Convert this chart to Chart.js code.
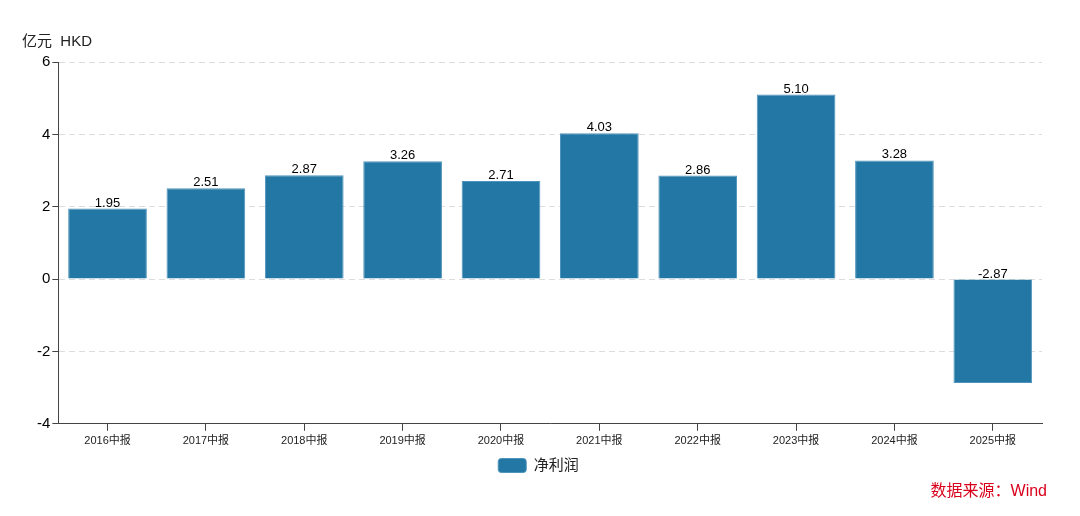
<!DOCTYPE html>
<html>
<head>
<meta charset="utf-8">
<script src="https://cdn.jsdelivr.net/npm/chart.js@4/dist/chart.umd.min.js"></script>
<style>
  html, body { margin: 0; padding: 0; background: #fff; }
  #wrap { width: 1080px; height: 516px; position: relative; }
</style>
</head>
<body>
<div id="wrap"><canvas id="grafico"></canvas></div>
<script>
// dados do gráfico
const categorias = ['2016中报', '2017中报', '2018中报', '2019中报', '2020中报', '2021中报', '2022中报', '2023中报', '2024中报', '2025中报'];
const lucroLiquido = [1.95, 2.51, 2.87, 3.26, 2.71, 4.03, 2.86, 5.10, 3.28, -2.87];
const nomeSerie = '净利润';
const unidade = '亿元  HKD';
const fonte = '数据来源：Wind';

const FONTE = 'Arial, "Liberation Sans", "Noto Sans CJK SC", sans-serif';
const corBarra = '#2277a4';

// rótulos em cima das barras + textos extras
const rotulos = {
    id: 'rotulos',
    afterDatasetsDraw(chart) {
        const ctx = chart.ctx;
        const meta = chart.getDatasetMeta(0);
        ctx.save();
        ctx.font = '13px ' + FONTE;
        ctx.fillStyle = '#000';
        ctx.textAlign = 'center';
        ctx.textBaseline = 'bottom';
        meta.data.forEach((barra, i) => {
            const topo = Math.min(barra.y, barra.base);
            ctx.fillText(lucroLiquido[i].toFixed(2), barra.x, topo + 1);
        });
        ctx.restore();
    },
    afterDraw(chart) {
        const ctx = chart.ctx;
        ctx.save();
        ctx.font = '15px ' + FONTE;
        ctx.fillStyle = '#222';
        ctx.textAlign = 'left';
        ctx.textBaseline = 'middle';
        ctx.fillText(unidade, 22, 42);
        ctx.font = '16px ' + FONTE;
        ctx.fillStyle = '#d9001b';
        ctx.textAlign = 'right';
        ctx.fillText(fonte, 1047, 492);
        ctx.restore();
    }
};

new Chart(document.getElementById('grafico'), {
    type: 'bar',
    data: {
        labels: categorias,
        datasets: [{
            label: nomeSerie,
            data: lucroLiquido,
            backgroundColor: corBarra,
            borderColor: '#4f94ba',
            borderWidth: 1,
            categoryPercentage: 0.8,
            barPercentage: 1.0
        }]
    },
    options: {
        responsive: true,
        maintainAspectRatio: false,
        animation: false,
        layout: { padding: { left: 35, right: 38, top: 62, bottom: 33 } },
        plugins: {
            legend: {
                position: 'bottom',
                labels: {
                    boxWidth: 28,
                    boxHeight: 14,
                    useBorderRadius: true,
                    borderRadius: 3,
                    color: '#222',
                    font: { size: 15, family: FONTE },
                    padding: 6
                }
            },
            tooltip: { enabled: false }
        },
        scales: {
            x: {
                grid: { drawOnChartArea: false, drawTicks: true, tickLength: 7, tickColor: '#444', offset: false },
                border: { color: '#444', width: 1 },
                ticks: { color: '#222', font: { size: 11, family: FONTE }, padding: 4 }
            },
            y: {
                min: -4,
                max: 6,
                ticks: { stepSize: 2, color: '#000', font: { size: 15, family: FONTE }, padding: 2 },
                grid: { color: '#dddddd', tickColor: '#444', tickLength: 6 },
                border: { color: '#444', width: 1, dash: [6, 4] }
            }
        }
    },
    plugins: [rotulos]
});
</script>
</body>
</html>
